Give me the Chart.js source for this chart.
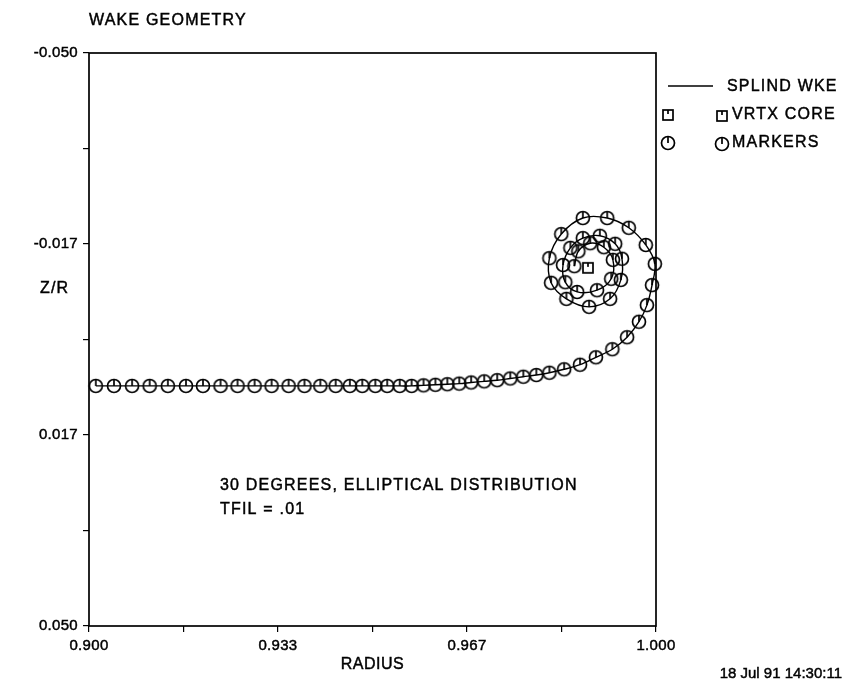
<!DOCTYPE html>
<html>
<head>
<meta charset="utf-8">
<title>Wake geometry</title>
<script src="https://cdn.jsdelivr.net/npm/chart.js@4.4.1/dist/chart.umd.min.js"></script>
<style>
  html, body { margin: 0; padding: 0; background: #fff; }
  #wrap { position: relative; width: 848px; height: 687px; }
</style>
</head>
<body>
<div id="wrap"><canvas id="wake"></canvas></div>
<script>
// wake filament markers: radius r/R and height z/R
const radius = [
  0.9012, 0.9044, 0.9076, 0.9107, 0.9139, 0.9171, 0.9201, 0.9232, 0.9262, 0.9292,
  0.9322, 0.9352, 0.9380, 0.9408, 0.9435, 0.9460, 0.9482, 0.9505, 0.9526, 0.9548,
  0.9569, 0.9590, 0.9611, 0.9632, 0.9653, 0.9674, 0.9697, 0.9720, 0.9743, 0.9766,
  0.9789, 0.9812, 0.9838, 0.9866, 0.9894, 0.9923, 0.9949, 0.9970, 0.9984, 0.9993,
  0.9998,
  0.9982, 0.9952, 0.9914, 0.9871, 0.9833, 0.9812, 0.9815, 0.9842, 0.9882, 0.9919,
  0.9938, 0.9940, 0.9928, 0.9901, 0.9871, 0.9849, 0.9836, 0.9840, 0.9861, 0.9896,
  0.9921, 0.9924, 0.9908, 0.9884, 0.9863, 0.9856
];
const zr = [
  0.0081, 0.0081, 0.0081, 0.0081, 0.0081, 0.0081, 0.0081, 0.0081, 0.0081, 0.0081,
  0.0081, 0.0081, 0.0081, 0.0081, 0.0081, 0.0081, 0.0081, 0.0081, 0.0081, 0.0081,
  0.0081, 0.0080, 0.0079, 0.0078, 0.0077, 0.0075, 0.0073, 0.0071, 0.0068, 0.0065,
  0.0062, 0.0058, 0.0052, 0.0044, 0.0031, 0.0017, -0.0004, -0.0031, -0.0060, -0.0095,
  -0.0132,
  -0.0165, -0.0195, -0.0212, -0.0212, -0.0184, -0.0142, -0.0099, -0.0071, -0.0057, -0.0071,
  -0.0104, -0.0141, -0.0167, -0.0181, -0.0177, -0.0160, -0.0130, -0.0100, -0.0083, -0.0086,
  -0.0106, -0.0139, -0.0161, -0.0168, -0.0154, -0.0128
];
// vortex core position
const coreRadius = [0.9880];
const coreZ = [-0.0125];

const xTicks = [0.9, 0.916667, 0.933333, 0.95, 0.966667, 0.983333, 1.0];
const xLabels = ["0.900", "", "0.933", "", "0.967", "", "1.000"];
const yTicks = [-0.05, -0.033333, -0.016667, 0, 0.016667, 0.033333, 0.05];
const yLabels = ["-0.050", "", "-0.017", "", "0.017", "", "0.050"];

const legendNames = ["SPLIND WKE", "VRTX CORE", "MARKERS"];
const noteLines = ["30 DEGREES, ELLIPTICAL DISTRIBUTION", "TFIL = .01"];
const stamp = "18 Jul 91 14:30:11";

const FONT = '"Liberation Sans", Arial, sans-serif';

// plotter style symbols: circle / square with a little tick from the top
function makeMarker(kind) {
  const c = document.createElement("canvas");
  c.width = 18;
  c.height = 18;
  const g = c.getContext("2d");
  g.strokeStyle = "#000";
  g.lineWidth = 1.7;
  if (kind === "circle") {
    g.beginPath();
    g.arc(9, 9, 6.5, 0, Math.PI * 2);
    g.stroke();
    g.beginPath();
    g.moveTo(9, 2.5);
    g.lineTo(9, 9);
    g.stroke();
  } else {
    g.strokeRect(4, 4, 10, 10);
    g.beginPath();
    g.moveTo(9, 4);
    g.lineTo(9, 8);
    g.stroke();
  }
  return c;
}
const circleMark = makeMarker("circle");
const squareMark = makeMarker("square");

// fill plus a thin stroke, the scanned plot text is a bit heavy
function heavyText(ctx, s, x, y) {
  ctx.fillText(s, x, y);
  ctx.strokeText(s, x, y);
}

const decor = {
  id: "decor",
  beforeDraw(chart) {
    chart.ctx.letterSpacing = "0.3px";
  },
  afterDraw(chart) {
    const { ctx, chartArea: a } = chart;
    ctx.save();
    ctx.strokeStyle = "#000";
    ctx.lineWidth = 1.7;
    ctx.strokeRect(a.left, a.top, a.right - a.left, a.bottom - a.top);

    ctx.fillStyle = "#000";
    ctx.font = "16px " + FONT;
    ctx.letterSpacing = "1.2px";
    ctx.textAlign = "left";
    ctx.textBaseline = "alphabetic";
    ctx.lineWidth = 0.45;
    heavyText(ctx, "WAKE GEOMETRY", a.left, 25);
    heavyText(ctx, "Z/R", 40, 293);
    heavyText(ctx, noteLines[0], 220, 490);
    heavyText(ctx, noteLines[1], 220, 514);

    // legend
    ctx.beginPath();
    ctx.moveTo(a.right + 12, 86);
    ctx.lineTo(a.right + 57, 86);
    ctx.lineWidth = 1.3;
    ctx.stroke();
    ctx.lineWidth = 0.45;
    heavyText(ctx, legendNames[0], a.right + 71, 91);
    ctx.drawImage(squareMark, a.right + 3, 106);
    ctx.drawImage(squareMark, a.right + 57, 107);
    heavyText(ctx, legendNames[1], a.right + 76, 119);
    ctx.drawImage(circleMark, a.right + 3, 134);
    ctx.drawImage(circleMark, a.right + 57, 135);
    heavyText(ctx, legendNames[2], a.right + 76, 147);

    ctx.letterSpacing = "0.5px";
    ctx.textAlign = "center";
    heavyText(ctx, "RADIUS", (a.left + a.right) / 2, 669);
    ctx.letterSpacing = "0px";
    ctx.textAlign = "right";
    ctx.font = '15px "Liberation Sans Narrow", ' + FONT;
    heavyText(ctx, stamp, 842, 678);
    ctx.restore();
  },
};

const ctx = document.getElementById("wake");

const wakeChart = new Chart(ctx, {
  type: "scatter",
  data: {
    datasets: [
      {
        label: legendNames[0],
        data: radius.map((r, i) => ({ x: r, y: zr[i] })),
        showLine: true,
        tension: 0.35,
        borderColor: "#000",
        borderWidth: 1.4,
        pointStyle: circleMark,
        pointRadius: 7,
        clip: false,
      },
      {
        label: legendNames[1],
        data: coreRadius.map((r, i) => ({ x: r, y: coreZ[i] })),
        pointStyle: squareMark,
        pointRadius: 7,
        clip: false,
      },
    ],
  },
  options: {
    responsive: true,
    maintainAspectRatio: false,
    animation: false,
    layout: { padding: { left: 0, right: 192, top: 53, bottom: 0 } },
    plugins: {
      legend: { display: false },
      tooltip: { enabled: false },
    },
    scales: {
      x: {
        type: "linear",
        min: 0.9,
        max: 1.0,
        afterBuildTicks: (s) => {
          s.ticks = xTicks.map((v) => ({ value: v }));
        },
        afterFit: (s) => {
          s.height = 61;
        },
        ticks: {
          autoSkip: false,
          maxRotation: 0,
          padding: 5,
          color: "#000",
          textStrokeColor: "#000",
          textStrokeWidth: 0.45,
          font: { family: FONT, size: 15 },
          callback: (v, i) => xLabels[i],
        },
        grid: { drawOnChartArea: false, drawTicks: true, tickLength: 6, color: "#000", lineWidth: 1.2 },
        border: { display: false },
      },
      y: {
        type: "linear",
        reverse: true,
        min: -0.05,
        max: 0.05,
        afterBuildTicks: (s) => {
          s.ticks = yTicks.map((v) => ({ value: v }));
        },
        afterFit: (s) => {
          s.width = 89;
        },
        ticks: {
          autoSkip: false,
          padding: 5,
          color: "#000",
          textStrokeColor: "#000",
          textStrokeWidth: 0.45,
          font: { family: FONT, size: 15 },
          callback: (v, i) => yLabels[i],
        },
        grid: { drawOnChartArea: false, drawTicks: true, tickLength: 6, color: "#000", lineWidth: 1.2 },
        border: { display: false },
      },
    },
  },
  plugins: [decor],
});
</script>
</body>
</html>
